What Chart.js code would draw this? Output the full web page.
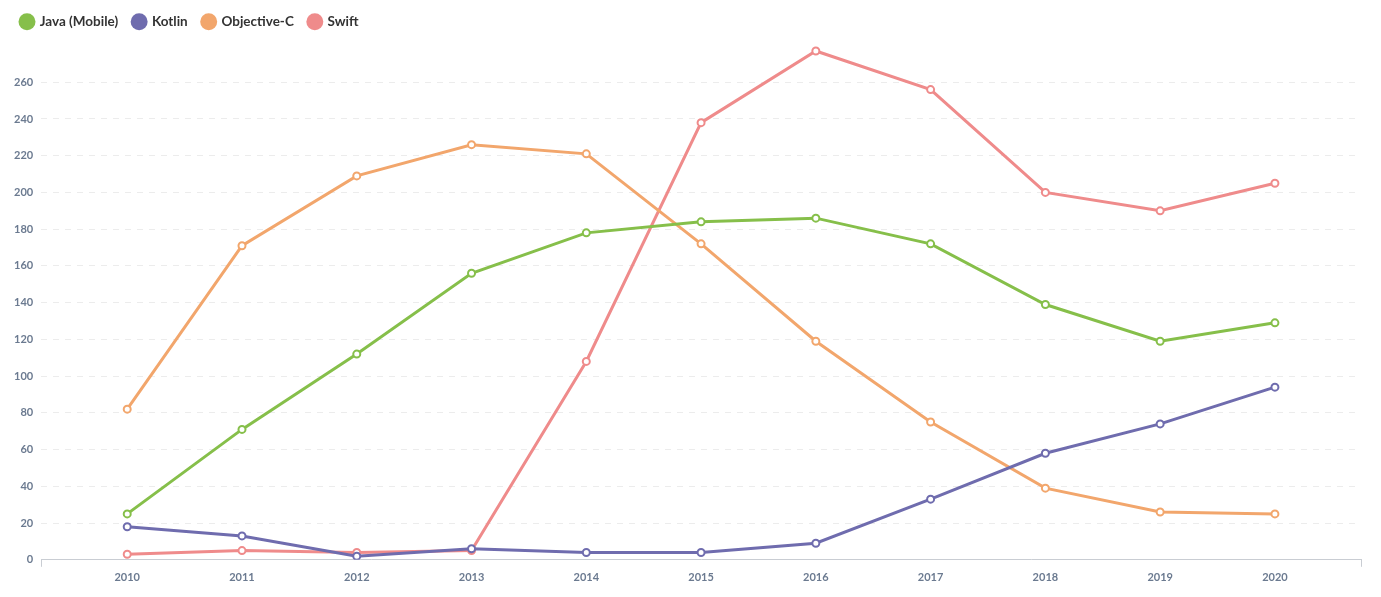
<!DOCTYPE html>
<html lang="en">
<head>
    <meta charset="utf-8" />
    <title>Mobile languages</title>
    <script src="https://cdn.jsdelivr.net/npm/chart.js@4/dist/chart.umd.min.js"></script>
    <style>
        html, body { margin: 0; padding: 0; background: #fff; }
        #wrap { width: 1381px; height: 597px; }
    </style>
</head>
<body>
<div id="wrap"><canvas id="line-chart"></canvas></div>
<script>
var years = [2010, 2011, 2012, 2013, 2014, 2015, 2016, 2017, 2018, 2019, 2020];
var javaMobile = [25, 71, 112, 156, 178, 184, 186, 172, 139, 119, 129];
var kotlin = [18, 13, 2, 6, 4, 4, 9, 33, 58, 74, 94];
var objectiveC = [82, 171, 209, 226, 221, 172, 119, 75, 39, 26, 25];
var swift = [3, 5, 4, 5, 108, 238, 277, 256, 200, 190, 205];

var xMin = 2009.25, xMax = 2020.75;

function pts(vals) {
    return years.map(function (y, i) { return { x: y, y: vals[i] }; });
}

function series(label, vals, color) {
    return {
        label: label,
        data: pts(vals),
        borderColor: color,
        backgroundColor: color,
        pointBackgroundColor: '#fff',
        pointBorderColor: color,
        pointBorderWidth: 2,
        pointRadius: 3.5,
        borderWidth: 3,
        tension: 0
    };
}

// extra gap under the legend
var legendGap = {
    id: 'legendGap',
    beforeInit: function (chart) {
        var fit = chart.legend.fit;
        chart.legend.fit = function () {
            fit.bind(chart.legend)();
            this.height += 7;
        };
    }
};

Chart.defaults.font.family = 'Lato';
Chart.defaults.font.weight = 'bold';

new Chart(document.getElementById('line-chart'), {
    type: 'line',
    data: {
        datasets: [
            series('Java (Mobile)', javaMobile, '#86bf4a'),
            series('Kotlin', kotlin, '#6f6cae'),
            series('Objective-C', objectiveC, '#f2a66c'),
            series('Swift', swift, '#ef8b8b')
        ]
    },
    plugins: [legendGap],
    options: {
        responsive: true,
        maintainAspectRatio: false,
        animation: false,
        layout: { padding: { left: 6, right: 20, top: 0, bottom: 9 } },
        plugins: {
            legend: {
                position: 'top',
                align: 'start',
                labels: {
                    usePointStyle: true,
                    pointStyle: 'circle',
                    boxWidth: 12,
                    boxHeight: 12,
                    padding: 15,
                    color: '#333',
                    font: { size: 13.5, weight: 'bold' },
                    generateLabels: function (chart) {
                        return chart.data.datasets.map(function (ds, i) {
                            return {
                                text: ds.label,
                                fillStyle: ds.borderColor,
                                strokeStyle: ds.borderColor,
                                lineWidth: 0,
                                pointStyle: 'circle',
                                datasetIndex: i,
                                fontColor: '#333'
                            };
                        });
                    }
                }
            },
            tooltip: { enabled: false }
        },
        scales: {
            x: {
                type: 'linear',
                min: xMin,
                max: xMax,
                afterBuildTicks: function (s) {
                    s.ticks = [{ value: xMin }].concat(years.map(function (v) { return { value: v }; }), [{ value: xMax }]);
                },
                grid: {
                    drawOnChartArea: false,
                    tickLength: 7,
                    color: function (c) {
                        return (c.tick && (c.tick.value === xMin || c.tick.value === xMax)) ? '#c9cdd3' : 'rgba(0,0,0,0)';
                    }
                },
                border: { color: '#c9cdd3', width: 1 },
                ticks: {
                    color: '#6b7a90',
                    font: { size: 11, weight: 'bold' },
                    padding: 4,
                    maxRotation: 0,
                    autoSkip: false,
                    callback: function (v) { return Number.isInteger(v) ? String(v) : ''; }
                }
            },
            y: {
                min: 0,
                max: 280,
                ticks: {
                    stepSize: 20,
                    color: '#6b7a90',
                    font: { size: 11, weight: 'bold' },
                    padding: 8,
                    callback: function (v) { return v === 280 ? '' : v; }
                },
                grid: {
                    drawTicks: false,
                    color: function (c) {
                        return (c.tick && (c.tick.value === 0 || c.tick.value === 280)) ? 'rgba(0,0,0,0)' : '#ececec';
                    }
                },
                border: { display: false, dash: [6, 6] }
            }
        }
    }
});
</script>
</body>
</html>
